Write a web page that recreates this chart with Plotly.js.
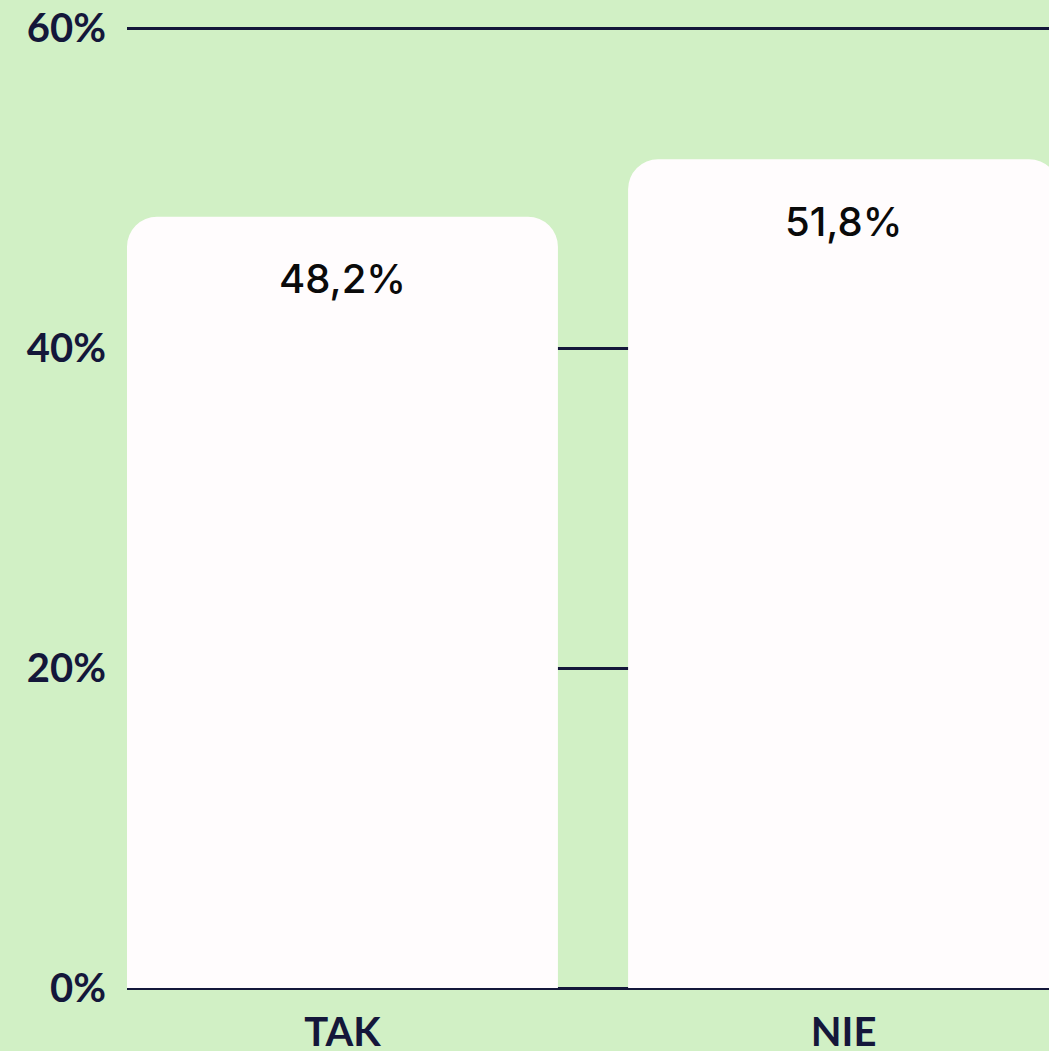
<!DOCTYPE html>
<html>
<head>
<meta charset="utf-8">
<script src="https://cdn.plot.ly/plotly-3.0.1.min.js"></script>
<style>
html,body{margin:0;padding:0;background:#d1f0c5;overflow:hidden;}
#chart{width:1049px;height:1051px;}
</style>
</head>
<body>
<div id="chart"></div>
<script>
const categories = ["TAK", "NIE"];
const values = [48.2, 51.8];
const valueLabels = ["48,2%", "51,8%"];
const yTickValues = [0, 20, 40, 60];
const yTickLabels = ["0%", "20%", "40%", "60%"];

const navy = "#14173a";
const bg = "#d1f0c5";

const trace = {
  type: "bar",
  x: categories,
  y: values,
  marker: { color: "#fffcfd", cornerradius: 30, line: { width: 0 } },
  hoverinfo: "none"
};

const annotations = categories.map((c, i) => ({
  x: c, y: values[i], xref: "x", yref: "y",
  text: valueLabels[i], showarrow: false,
  yanchor: "middle", yshift: -62,
  font: { family: "Inter, 'Noto Sans', sans-serif", size: 40, color: "#0a0a0a", weight: 500 }
}));

const layout = {
  width: 1049, height: 1051,
  paper_bgcolor: bg, plot_bgcolor: bg,
  margin: { l: 127, r: 0, t: 25, b: 60 },
  bargap: 0.14,
  showlegend: false,
  xaxis: {
    type: "category",
    range: [-0.43, 1.41],
    showgrid: false, zeroline: false,
    showline: false,
    ticks: "", ticklabelstandoff: 14,
    tickfont: { family: "Lato, sans-serif", size: 40, color: navy, weight: "bold" },
    fixedrange: true
  },
  yaxis: {
    range: [-0.1875, 60.1875],
    tickvals: yTickValues, ticktext: yTickLabels,
    showgrid: true, gridcolor: navy, gridwidth: 3,
    zeroline: false, showline: false,
    ticks: "", ticklabelstandoff: 20,
    tickfont: { family: "Lato, sans-serif", size: 40, color: navy, weight: "bold" },
    fixedrange: true
  },
  annotations: annotations
};

Plotly.newPlot("chart", [trace], layout, { displayModeBar: false, staticPlot: true });
</script>
</body>
</html>
